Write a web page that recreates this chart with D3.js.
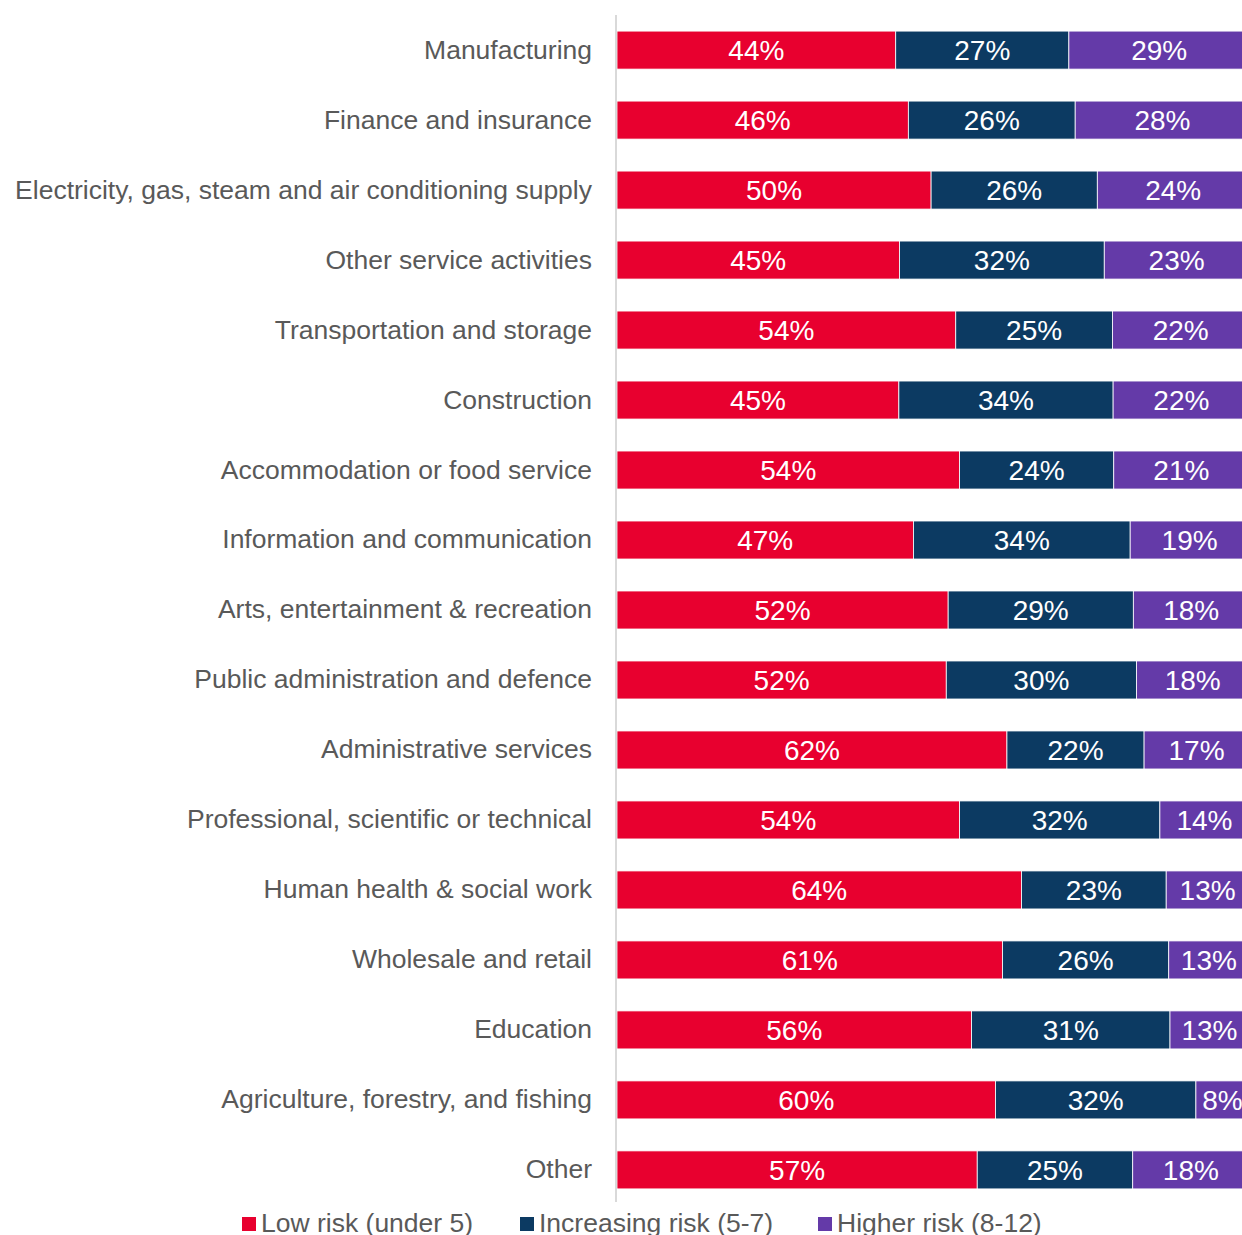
<!DOCTYPE html>
<html>
<head>
<meta charset="utf-8">
<script src="https://cdn.jsdelivr.net/npm/d3@7"></script>
<style>
  body { margin: 0; background: #fff; }
  svg { display: block; font-family: "Liberation Sans", Arial, sans-serif; }
</style>
</head>
<body>
<svg id="chart" width="1242" height="1235"></svg>
<script>
// sectors, top to bottom
const sectors = [
  "Manufacturing",
  "Finance and insurance",
  "Electricity, gas, steam and air conditioning supply",
  "Other service activities",
  "Transportation and storage",
  "Construction",
  "Accommodation or food service",
  "Information and communication",
  "Arts, entertainment & recreation",
  "Public administration and defence",
  "Administrative services",
  "Professional, scientific or technical",
  "Human health & social work",
  "Wholesale and retail",
  "Education",
  "Agriculture, forestry, and fishing",
  "Other"
];
// % of respondents (estimated to one decimal from bar lengths, labels show rounded)
const lowRisk        = [44.1, 46.1, 49.7, 44.7, 53.6, 44.6, 54.2, 46.9, 52.4, 52.1, 61.7, 54.2, 64.0, 61.0, 56.1, 59.9, 57.0];
const increasingRisk = [27.4, 26.4, 26.3, 32.4, 24.8, 33.9, 24.4, 34.3, 29.3, 30.1, 21.7, 31.7, 22.9, 26.3, 31.4, 31.7, 24.6];
const higherRisk     = [28.6, 27.6, 24.0, 22.9, 21.6, 21.6, 21.4, 18.8, 18.3, 17.8, 16.6, 14.1, 13.1, 12.7, 12.5, 8.4, 18.4];

const seriesNames = ["Low risk (under 5)", "Increasing risk (5-7)", "Higher risk (8-12)"];
const seriesColors = ["#e8002f", "#0c3a62", "#643aa8"];

const svg = d3.select("#chart");
const left = 617;

// the plot runs a little past the right edge of the picture
const x = d3.scaleLinear().domain([0, 100]).range([left, 1249]);
const y = d3.scaleBand().domain(sectors).range([15, 1205]).paddingInner(0.457).paddingOuter(0.23);

const rows = sectors.map((s, i) => ({sector: s, v: [lowRisk[i], increasingRisk[i], higherRisk[i]]}));

// bars
const g = svg.append("g");
rows.forEach(r => {
  let acc = 0;
  r.v.forEach((v, k) => {
    const x0 = x(acc), x1 = x(acc + v);
    g.append("rect")
      .attr("x", x0).attr("y", y(r.sector))
      .attr("width", x1 - x0).attr("height", y.bandwidth())
      .attr("fill", seriesColors[k])
      .attr("stroke", "#ffffff").attr("stroke-width", 0.8);
    g.append("text")
      .attr("x", (x0 + x1) / 2).attr("y", y(r.sector) + y.bandwidth() / 2)
      .attr("dy", "0.36em")
      .attr("text-anchor", "middle")
      .attr("fill", "#fff")
      .attr("font-size", 28)
      .text(Math.round(v) + "%");
    acc += v;
  });
});

// category axis
const yAxis = svg.append("g")
  .attr("transform", `translate(${left - 1},0)`)
  .call(d3.axisLeft(y).tickSize(0).tickPadding(24));
yAxis.select(".domain").attr("stroke", "#d9d9d9").attr("stroke-width", 2)
  .attr("d", "M0,15V1202");
yAxis.selectAll("text").attr("font-size", 26.5).attr("fill", "#595959")
  .attr("font-family", "Liberation Sans, Arial, sans-serif");

// legend
const legendX = [242, 520, 818];
const legend = svg.append("g");
seriesNames.forEach((n, k) => {
  legend.append("rect").attr("x", legendX[k]).attr("y", 1217)
    .attr("width", 14).attr("height", 14).attr("fill", seriesColors[k]);
  legend.append("text").attr("x", legendX[k] + 19).attr("y", 1232)
    .attr("font-size", 26.5).attr("fill", "#595959").text(n);
});
</script>
</body>
</html>
